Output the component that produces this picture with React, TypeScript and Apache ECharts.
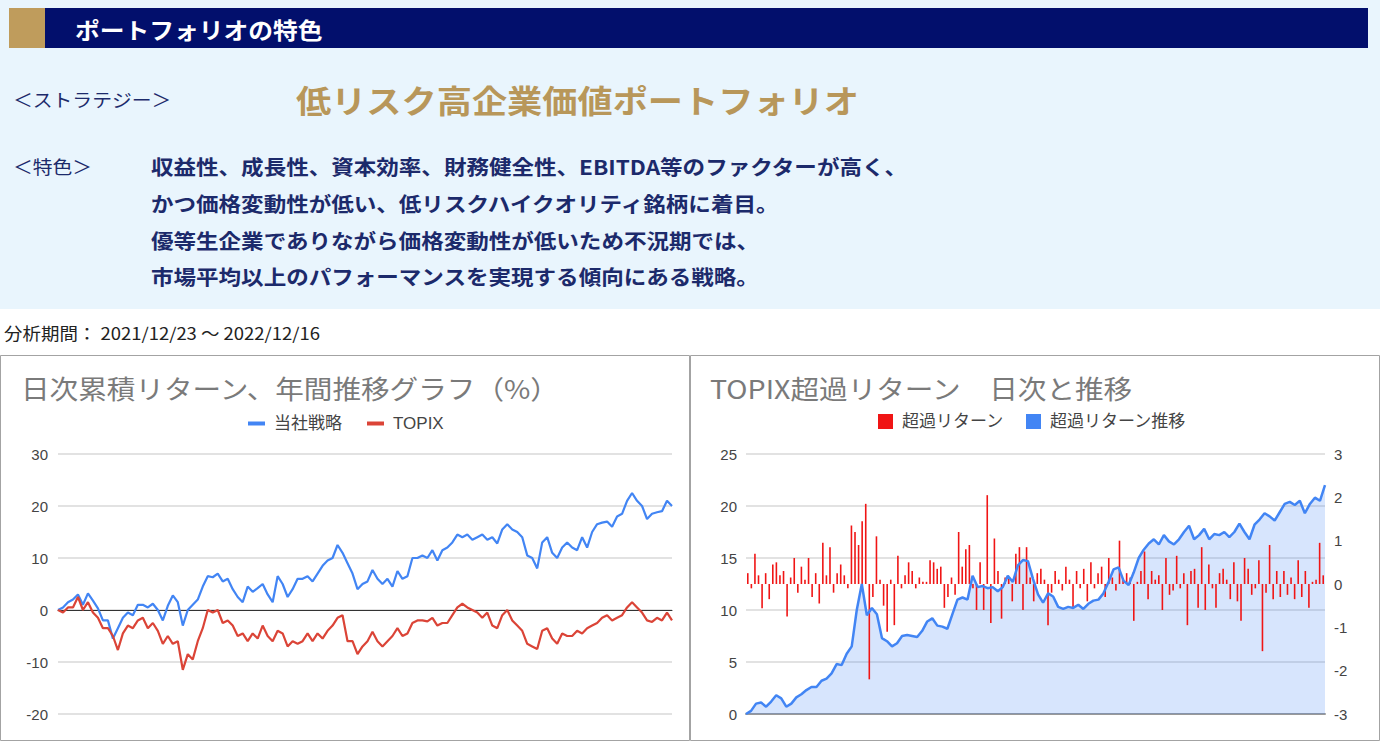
import { useEffect, useRef } from "react";
import * as echarts from "echarts";

// 日次累積リターン（%）
const strategy = [
  0, 0.5, 1.5, 2, 3, 1, 3.2, 1.8, 0.3, -2,
  -2, -5.5, -3.5, -1.5, -0.5, -1, 1, 1, 0.5, 1.2,
  0, -2, 0.8, 2.8, 1.5, -3, 0, 1, 2, 4.5,
  6.5, 6.3, 7, 5.5, 6, 4, 2.5, 1.5, 4.5, 3.5,
  4.2, 5, 3, 1.5, 6.5, 5, 2.5, 4, 6, 6,
  6.5, 5.5, 7, 8.5, 9.5, 10, 12.5, 11, 9, 7,
  4, 5, 5.5, 7.7, 6, 5, 6, 4.5, 7.5, 6,
  6.5, 10, 10, 10.5, 10, 11.5, 9.5, 11.5, 12, 13,
  14.5, 14, 14.5, 13.5, 14, 14.5, 13.5, 14, 12.8, 15.5,
  16.5, 15.5, 15, 14, 10.5, 10, 8, 13, 14, 11,
  10, 12, 13, 12, 11.5, 14, 12, 15, 16.5, 16.8,
  17, 16, 18, 18.5, 21, 22.5, 21, 20, 17.5, 18.5,
  18.8, 19, 21, 20,
];

const topix = [
  0, -0.5, 0.5, 0.5, 2.5, 0, 1.5, -0.5, -1.5, -3.5,
  -3.5, -5, -7.7, -4.5, -3, -3.5, -2, -1.5, -3.5, -2.5,
  -4, -6.5, -5, -6.5, -6, -11.5, -8.5, -9.5, -6, -3.5,
  0, -0.5, 0, -2.5, -2, -3, -5, -4.5, -6, -4.5,
  -5.5, -3, -5, -6, -4, -4.5, -7, -6, -6.5, -6,
  -4.5, -6, -4.5, -5.5, -4, -3, -1.5, -1, -6, -6,
  -8.5, -7, -6, -4.2, -6, -7, -6, -5, -3.5, -5,
  -4.5, -2.5, -2, -2, -2.2, -1.5, -3, -2.5, -2.5, -1,
  0.5, 1.2, 0.5, 0, -0.5, -1.5, -0.5, -3, -3.5, -1,
  0, -2, -3, -4, -6.5, -7, -7.5, -4, -3.5, -5.5,
  -6.5, -4.5, -5, -5, -4, -4.5, -3.5, -3, -2.5, -1.5,
  -1, -2, -1.5, -1, 0.5, 1.5, 0.5, -0.5, -2, -2.3,
  -1.5, -2, -0.5, -2,
];

// TOPIX超過リターン推移（左軸）
const excessCum = [
  0, 0.3, 1.0, 1.1, 0.7, 1.2, 1.8, 1.5, 0.7, 1.0,
  1.6, 1.9, 2.3, 2.6, 2.6, 3.2, 3.4, 3.9, 4.8, 4.7,
  5.8, 6.5, 10, 12.5, 9.5, 10.2, 9.6, 7.3, 7.0, 6.5,
  6.8, 7.5, 7.6, 7.5, 7.4, 8.0, 8.9, 9.2, 8.5, 8.4,
  8.2, 9.6, 11.0, 11.2, 11.0, 13.3, 12.2, 12.3, 12.1, 12.2,
  11.8, 12.2, 13.3, 12.7, 14.3, 14.8, 14.7, 13.0, 11.5, 10.7,
  11.6, 11.3, 10.3, 10.1, 10.3, 10.2, 10.5, 10.1, 10.6, 10.9,
  11.0, 11.6, 12.7, 13.9, 14.1, 12.8, 12.4, 13.6, 15.0, 15.8,
  16.4, 16.8, 16.3, 17.2, 16.6, 16.3, 16.8, 17.5, 18.1, 16.8,
  17.2, 17.8, 16.8, 17.3, 17.2, 17.5, 17.0, 17.5, 18.3, 17.5,
  16.8, 18.2, 18.7, 19.3, 19.0, 18.6, 19.4, 20.2, 20.4, 20.1,
  20.5, 19.3, 20.2, 20.8, 20.5, 22.0,
];

// 日次超過リターン（右軸）
const excessDaily = [
  0.25, -0.1, 0.7, 0.2, -0.56, 0.25, -0.35, 0.45, 0.5, 0.2,
  0.3, -0.75, 0.15, 0.6, -0.2, 0.4, 0.1, 0.6, -0.3, 0.25,
  -0.45, 0.95, 0.2, 0.85, -0.2, 0.25, 0.45, 0.2, -0.1, 1.35,
  1.2, 0.9, 1.45, 1.85, -2.2, -0.3, 1.1, 0.1, -0.5, -1.1,
  0.1, -0.95, 0.65, -0.1, 0.2, 0.5, 0.3, -0.1, 0.15, 0.05,
  0.05, 0.55, 0.5, 0.35, 0.4, -0.55,
  -0.3, 0.15, -0.25, 1.2, 0.4, 0.8, 0.9, -0.1, -0.6, 0.5,
  -0.6, 2.05, -0.9, 1.05, 0.3, -0.8, 0.15, 0.15, -0.4, 0.7,
  0.85, -0.6, 0.85, 0.15, -0.4, 0.25, 0.35, 0.1, -0.95, -0.2,
  0.3, 0.1, -0.15, 0.4, 0.1, -0.55, 0.3, -0.1, 0.35, -0.4,
  0.5, -0.1, 0.25, 0.4, -0.3, 0.6, 0.15, -0.15, 1.0, 0.1,
  0.25, 0.15, -0.85, 0.05, 0.3,
  0.75, -0.35, 0.3, 0.1, 0.2, -0.6, 0.6, -0.25, -0.15, 0.65,
  -0.1, 0.25, -0.95, 0.3, 0.35, -0.55, 0.85, -0.6, 0.45, -0.1,
  -0.55, 0.25, 0.35, 0.1, -0.35, 0.5, -0.4, -0.85, 0.6, 0.35,
  -0.25, -0.1, 0.55, -1.55, -0.2, 0.9, -0.35, 0.3, -0.3, 0.3,
  -0.25, 0.15, -0.35, 0.55, -0.3, 0.3, -0.55, 0.05, 0.1, 0.95,
  0.2,
];

const bodyLines = [
  "収益性、成長性、資本効率、財務健全性、EBITDA等のファクターが高く、",
  "かつ価格変動性が低い、低リスクハイクオリティ銘柄に着目。",
  "優等生企業でありながら価格変動性が低いため不況期では、",
  "市場平均以上のパフォーマンスを実現する傾向にある戦略。",
];

const JP = "'Noto Sans CJK JP', 'Noto Sans', sans-serif";
const NUM = "'Liberation Sans', 'Noto Sans CJK JP', sans-serif";

function txt(text: string, x: number, y: number, size: number, fill: string, weight = "normal", scaleX = 1.1, family = JP) {
  return {
    type: "text",
    x,
    y,
    scaleX,
    silent: true,
    style: { text, fill, fontSize: size, fontWeight: weight, fontFamily: family, verticalAlign: "middle", align: "left" },
  };
}

export default function App() {
  const ref = useRef<HTMLDivElement>(null);
  useEffect(() => {
    const chart = echarts.init(ref.current!, null, { renderer: "svg" });
    const navyText = "#1c2a6b";
    const bodyY = [166, 203, 240, 276];
    const axisLabel = { color: "#444", fontSize: 15, fontFamily: NUM };
    const splitLine = { show: true, lineStyle: { color: "#e2e2e2", width: 2 } };
    const legendText = { fontSize: 17, color: "#444", fontFamily: NUM, padding: [0, 0, 0, 4] };
    chart.setOption({
      animation: false,
      backgroundColor: "#ffffff",
      graphic: [
        { type: "rect", silent: true, shape: { x: 0, y: 0, width: 1380, height: 309 }, style: { fill: "#e9f5fd" } },
        { type: "rect", silent: true, shape: { x: 9, y: 8, width: 36, height: 40 }, style: { fill: "#bf9c5c" } },
        { type: "rect", silent: true, shape: { x: 45, y: 8, width: 1323, height: 40 }, style: { fill: "#020f6c" } },
        txt("ポートフォリオの特色", 75, 29, 22.5, "#ffffff", "bold"),
        txt("＜ストラテジー＞", 13, 99, 18, navyText, "normal"),
        txt("低リスク高企業価値ポートフォリオ", 296, 99, 32, "#b8975a", "bold"),
        txt("＜特色＞", 13, 166, 18, navyText, "normal"),
        ...bodyLines.map((l, i) => txt(l, 151, bodyY[i], 20.5, navyText, "bold")),
        txt("分析期間： 2021/12/23 ～ 2022/12/16", 4, 333, 16.8, "#222", "normal", 1.1),
        { type: "rect", silent: true, shape: { x: 0.5, y: 355.5, width: 689, height: 385 }, style: { fill: "none", stroke: "#a3a3a3", lineWidth: 1 } },
        { type: "rect", silent: true, shape: { x: 690.5, y: 355.5, width: 689, height: 385 }, style: { fill: "none", stroke: "#a3a3a3", lineWidth: 1 } },
        txt("日次累積リターン、年間推移グラフ（%）", 21, 388, 26, "#7a7a7a", "normal"),
        txt("TOPIX超過リターン　日次と推移", 710, 388, 26, "#7a7a7a", "normal"),
      ],
      legend: [
        {
          data: ["当社戦略", "TOPIX"],
          left: 243,
          top: 410,
          icon: "rect",
          itemWidth: 17,
          itemHeight: 4,
          itemGap: 25,
          selectedMode: false,
          textStyle: legendText,
        },
        {
          data: ["超過リターン", "超過リターン推移"],
          left: 873,
          top: 408,
          icon: "rect",
          itemWidth: 15,
          itemHeight: 15,
          itemGap: 22,
          selectedMode: false,
          textStyle: legendText,
        },
      ],
      grid: [
        { left: 58, top: 454, width: 614, height: 260 },
        { left: 746, top: 454, width: 579, height: 260 },
      ],
      xAxis: [
        {
          gridIndex: 0,
          type: "category",
          boundaryGap: false,
          data: strategy.map((_, i) => i),
          axisLine: { show: true, onZero: true, lineStyle: { color: "#333", width: 1 } },
          axisTick: { show: false },
          axisLabel: { show: false },
          splitLine: { show: false },
        },
        {
          gridIndex: 1,
          type: "category",
          boundaryGap: false,
          data: excessCum.map((_, i) => i),
          axisLine: { show: true, lineStyle: { color: "#999", width: 2 } },
          axisTick: { show: false },
          axisLabel: { show: false },
          splitLine: { show: false },
        },
        {
          gridIndex: 1,
          type: "category",
          boundaryGap: true,
          show: false,
          data: excessDaily.map((_, i) => i),
        },
      ],
      yAxis: [
        {
          gridIndex: 0,
          type: "value",
          min: -20,
          max: 30,
          interval: 10,
          axisLine: { show: false },
          axisTick: { show: false },
          axisLabel: { ...axisLabel, margin: 10 },
          splitLine,
        },
        {
          gridIndex: 1,
          type: "value",
          position: "left",
          min: 0,
          max: 25,
          interval: 5,
          axisLine: { show: false },
          axisTick: { show: false },
          axisLabel: { ...axisLabel, margin: 9 },
          splitLine,
        },
        {
          gridIndex: 1,
          type: "value",
          position: "right",
          min: -3,
          max: 3,
          interval: 1,
          axisLine: { show: false },
          axisTick: { show: false },
          axisLabel: { ...axisLabel, margin: 9 },
          splitLine: { show: false },
        },
      ],
      series: [
        {
          name: "当社戦略",
          type: "line",
          xAxisIndex: 0,
          yAxisIndex: 0,
          data: strategy,
          showSymbol: false,
          color: "#4285f4",
          lineStyle: { width: 2.2, color: "#4285f4" },
        },
        {
          name: "TOPIX",
          type: "line",
          xAxisIndex: 0,
          yAxisIndex: 0,
          data: topix,
          showSymbol: false,
          color: "#db4437",
          lineStyle: { width: 2.2, color: "#db4437" },
        },
        {
          name: "超過リターン推移",
          type: "line",
          xAxisIndex: 1,
          yAxisIndex: 1,
          data: excessCum,
          showSymbol: false,
          color: "#4285f4",
          lineStyle: { width: 0, opacity: 0 },
          areaStyle: { color: "rgba(66,133,244,0.3)" },
          z: 1,
        },
        {
          name: "超過リターン",
          type: "bar",
          xAxisIndex: 2,
          yAxisIndex: 2,
          data: excessDaily,
          barWidth: 1.6,
          color: "#f01515",
          itemStyle: { color: "#f01515" },
          z: 2,
        },
        {
          name: "超過リターン推移",
          type: "line",
          xAxisIndex: 1,
          yAxisIndex: 1,
          data: excessCum,
          showSymbol: false,
          color: "#4285f4",
          lineStyle: { width: 2.5, color: "#4285f4" },
          z: 3,
        },
      ],
    });
    return () => chart.dispose();
  }, []);
  return (
    <div
      ref={ref}
      style={{ position: "absolute", left: 0, top: 0, width: 1386, height: 747, background: "#fff" }}
    />
  );
}
